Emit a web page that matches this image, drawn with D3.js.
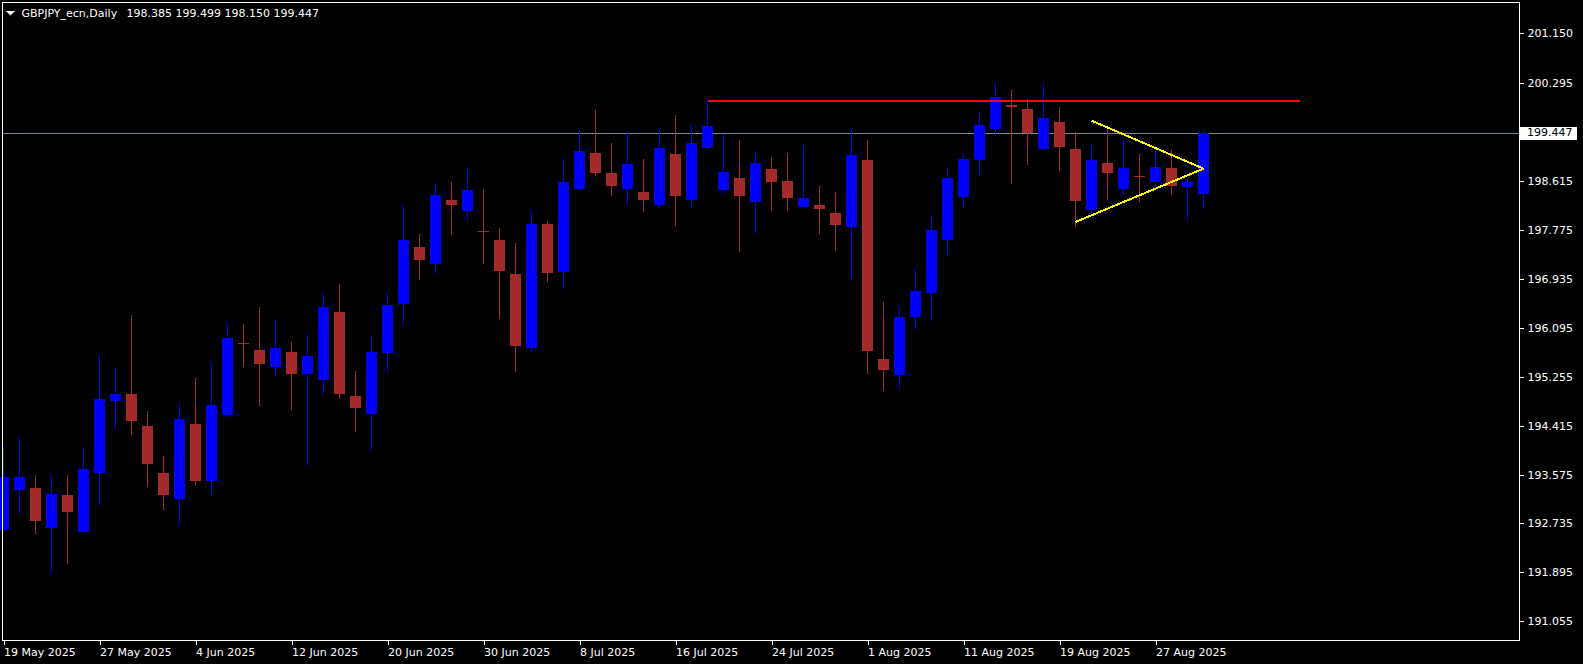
<!DOCTYPE html>
<html><head><meta charset="utf-8">
<script src="https://cdn.jsdelivr.net/npm/d3@7"></script>
<style>html,body{margin:0;padding:0;background:#000;overflow:hidden}svg{display:block}</style>
</head><body>
<svg id="chart" width="1583" height="664"></svg>
<script>
const symbolTitle = "GBPJPY_ecn,Daily";
const headerValues = "198.385 199.499 198.150 199.447";
const dates = ["2025-05-19","2025-05-20","2025-05-21","2025-05-22","2025-05-23","2025-05-26","2025-05-27","2025-05-28","2025-05-29","2025-05-30",
"2025-06-02","2025-06-03","2025-06-04","2025-06-05","2025-06-06","2025-06-09","2025-06-10","2025-06-11","2025-06-12","2025-06-13","2025-06-16","2025-06-17","2025-06-18","2025-06-19","2025-06-20","2025-06-23","2025-06-24","2025-06-25","2025-06-26","2025-06-27","2025-06-30",
"2025-07-01","2025-07-02","2025-07-03","2025-07-04","2025-07-07","2025-07-08","2025-07-09","2025-07-10","2025-07-11","2025-07-14","2025-07-15","2025-07-16","2025-07-17","2025-07-18","2025-07-21","2025-07-22","2025-07-23","2025-07-24","2025-07-25","2025-07-28","2025-07-29","2025-07-30","2025-07-31",
"2025-08-01","2025-08-04","2025-08-05","2025-08-06","2025-08-07","2025-08-08","2025-08-11","2025-08-12","2025-08-13","2025-08-14","2025-08-15","2025-08-18","2025-08-19","2025-08-20","2025-08-21","2025-08-22","2025-08-25","2025-08-26","2025-08-27","2025-08-28","2025-08-29",
"2025-09-01"];
const opens = [192.629,193.315,193.345,192.663,193.224,192.594,193.607,194.843,194.958,194.409,193.602,193.156,194.443,193.465,194.598,195.834,195.714,195.422,195.679,195.307,195.204,196.366,194.924,194.620,195.667,
196.508,197.482,197.195,198.289,198.100,197.751,197.602,197.018,195.753,197.877,197.058,198.477,199.095,198.752,198.483,198.426,198.208,199.078,198.294,199.186,198.465,198.666,198.259,198.821,198.615,
198.168,198.203,198.065,197.825,198.975,195.559,195.284,196.280,196.692,197.607,198.340,198.980,199.513,199.919,199.851,199.164,199.628,199.164,198.122,198.924,198.483,198.701,198.603,198.838,198.512,198.385];
const highs = [194.083,194.220,193.568,193.590,193.568,194.048,195.628,195.405,196.314,194.666,193.894,194.787,195.233,195.508,196.194,196.160,196.452,196.246,195.851,195.988,196.692,196.847,195.353,195.954,196.709,
198.203,197.705,198.580,198.598,198.821,198.477,197.808,197.550,198.117,197.928,199.010,199.490,199.834,199.267,199.456,198.992,199.542,199.748,199.576,199.997,199.422,199.319,199.095,199.027,199.095,
199.233,198.529,198.426,199.525,199.319,196.538,196.469,197.104,198.031,198.838,199.078,199.799,200.292,200.177,200.022,200.280,199.885,199.461,199.233,199.537,199.324,199.078,199.169,199.147,198.689,199.499];
const lows = [192.620,192.907,192.577,191.885,192.062,192.594,193.058,194.380,194.277,193.384,192.989,192.709,193.418,193.247,194.569,195.444,194.774,195.284,194.706,193.744,194.963,194.895,194.328,194.002,195.358,
196.148,196.932,197.041,197.710,197.968,197.212,196.268,195.358,195.701,196.903,196.783,198.465,198.723,198.380,198.225,198.105,198.174,197.865,198.191,199.164,198.414,197.413,197.727,198.122,198.122,
198.168,197.727,197.435,196.955,195.324,195.027,195.078,196.074,196.229,197.367,198.168,198.740,199.410,198.586,198.912,199.164,198.809,197.847,198.088,198.311,198.397,198.277,198.517,198.397,197.962,198.150];
const closes = [193.533,193.533,192.783,193.241,192.938,193.671,194.872,194.958,194.500,193.762,193.229,194.529,193.470,194.769,195.920,195.825,195.478,195.748,195.307,195.611,196.452,194.963,194.723,195.679,196.486,
197.602,197.264,198.374,198.208,198.460,197.739,197.075,195.787,197.877,197.041,198.598,199.130,198.757,198.534,198.907,198.294,199.181,198.362,199.267,199.559,198.769,198.362,198.924,198.603,198.328,
198.323,198.139,197.865,199.061,195.701,195.375,196.280,196.726,197.774,198.666,198.992,199.576,200.052,199.890,199.444,199.696,199.204,198.277,198.975,198.757,198.838,198.675,198.855,198.534,198.592,199.447];
const priceTicks = [201.150,200.295,198.615,197.775,196.935,196.095,195.255,194.415,193.575,192.735,191.895,191.055];
const timeTickIdx = [0,6,12,18,24,30,36,42,48,54,60,66,72];
const currentPrice = 199.447;
const resistance = {from:44, to:81, price:199.995};
const triUpper = {from:68, p1:199.650, to:75, p2:198.826};
const triLower = {from:67, p1:197.911, to:75, p2:198.826};

const W = 1583, H = 664, right = 1519.5, bottom = 640.5;
const svg = d3.select("#chart");
svg.append("rect").attr("width",W).attr("height",H).attr("fill","#000");
const font = "'DejaVu Sans', Verdana, sans-serif";

const x = d3.scaleLinear().domain([0,75]).range([3.5,1203.5]);
const y = d3.scaleLinear().domain([190.734,201.722]).range([640,0]);
const parse = d3.timeParse("%Y-%m-%d"), fmt = d3.timeFormat("%-d %b %Y");

const data = dates.map((d,i)=>({i,o:opens[i],h:highs[i],l:lows[i],c:closes[i]}));
const col = d => d.c >= d.o ? "#0000FF" : "#A52A2A";

const plot = svg.append("g");
// current price line
plot.append("line").attr("x1",3).attr("x2",right).attr("y1",Math.round(y(currentPrice))+0.5).attr("y2",Math.round(y(currentPrice))+0.5)
  .attr("stroke","#778899").attr("stroke-width",1).attr("shape-rendering","crispEdges");

const g = plot.selectAll("g.c").data(data).join("g").attr("class","c");
g.append("line").attr("x1",d=>x(d.i)).attr("x2",d=>x(d.i))
  .attr("y1",d=>Math.round(y(d.h))).attr("y2",d=>Math.round(y(d.l))+1)
  .attr("stroke",col).attr("stroke-width",1).attr("shape-rendering","crispEdges");
g.append("rect").attr("x",d=>x(d.i)-5.5).attr("width",11)
  .attr("y",d=>Math.round(y(Math.max(d.o,d.c))))
  .attr("height",d=>Math.max(1,Math.round(y(Math.min(d.o,d.c)))-Math.round(y(Math.max(d.o,d.c)))))
  .attr("fill",col).attr("shape-rendering","crispEdges");

// resistance line
plot.append("line").attr("x1",x(resistance.from)).attr("x2",x(resistance.to))
  .attr("y1",y(resistance.price)).attr("y2",y(resistance.price))
  .attr("stroke","#FF0000").attr("stroke-width",2).attr("shape-rendering","crispEdges");
// triangle lines
[triUpper,triLower].forEach(t=>{
  plot.append("line").attr("x1",x(t.from)).attr("y1",y(t.p1)).attr("x2",x(t.to)).attr("y2",y(t.p2))
    .attr("stroke","#FFFF00").attr("stroke-width",2).attr("shape-rendering","crispEdges");
});

// frame
svg.append("path").attr("d",`M2.5,2.5H${right}V${bottom}H2.5Z`).attr("fill","none").attr("stroke","#fff").attr("stroke-width",1).attr("shape-rendering","crispEdges");

// price axis
const ya = svg.append("g").attr("transform",`translate(${right},0)`)
  .call(d3.axisRight(y).tickValues(priceTicks).tickSize(4).tickPadding(4).tickFormat(d3.format(".3f")));
ya.select(".domain").remove();
ya.selectAll("line").attr("stroke","#fff").attr("shape-rendering","crispEdges");
ya.selectAll("text").attr("fill","#fff").attr("font-family",font).attr("font-size",11);

// current price label
const cy = y(currentPrice);
svg.append("rect").attr("x",1520).attr("y",Math.round(cy)-6).attr("width",57).attr("height",13).attr("fill","#fff");
svg.append("line").attr("x1",right).attr("x2",1523).attr("y1",Math.round(cy)+0.5).attr("y2",Math.round(cy)+0.5).attr("stroke","#fff");
svg.append("text").attr("x",1527).attr("y",cy).attr("dy","0.36em").attr("fill","#000")
  .attr("font-family",font).attr("font-size",11).text(d3.format(".3f")(currentPrice));

// time axis
const xa = svg.append("g").attr("transform",`translate(0,${bottom})`)
  .call(d3.axisBottom(x).tickValues(timeTickIdx).tickSize(4).tickFormat(i=>fmt(parse(dates[i]))));
xa.select(".domain").remove();
xa.selectAll("line").attr("stroke","#fff").attr("shape-rendering","crispEdges");
xa.selectAll("text").attr("fill","#fff").attr("font-family",font).attr("font-size",11)
  .attr("text-anchor","start").attr("x",0).attr("y",15).attr("dy",0);

// header
svg.append("path").attr("d","M6,11H15L10.5,15.5Z").attr("fill","#fff");
svg.append("text").attr("x",21.5).attr("y",16.5).attr("fill","#fff").attr("font-family",font).attr("font-size",11).text(symbolTitle);
svg.append("text").attr("x",126.5).attr("y",16.5).attr("fill","#fff").attr("font-family",font).attr("font-size",11).text(headerValues);
</script>
</body></html>
